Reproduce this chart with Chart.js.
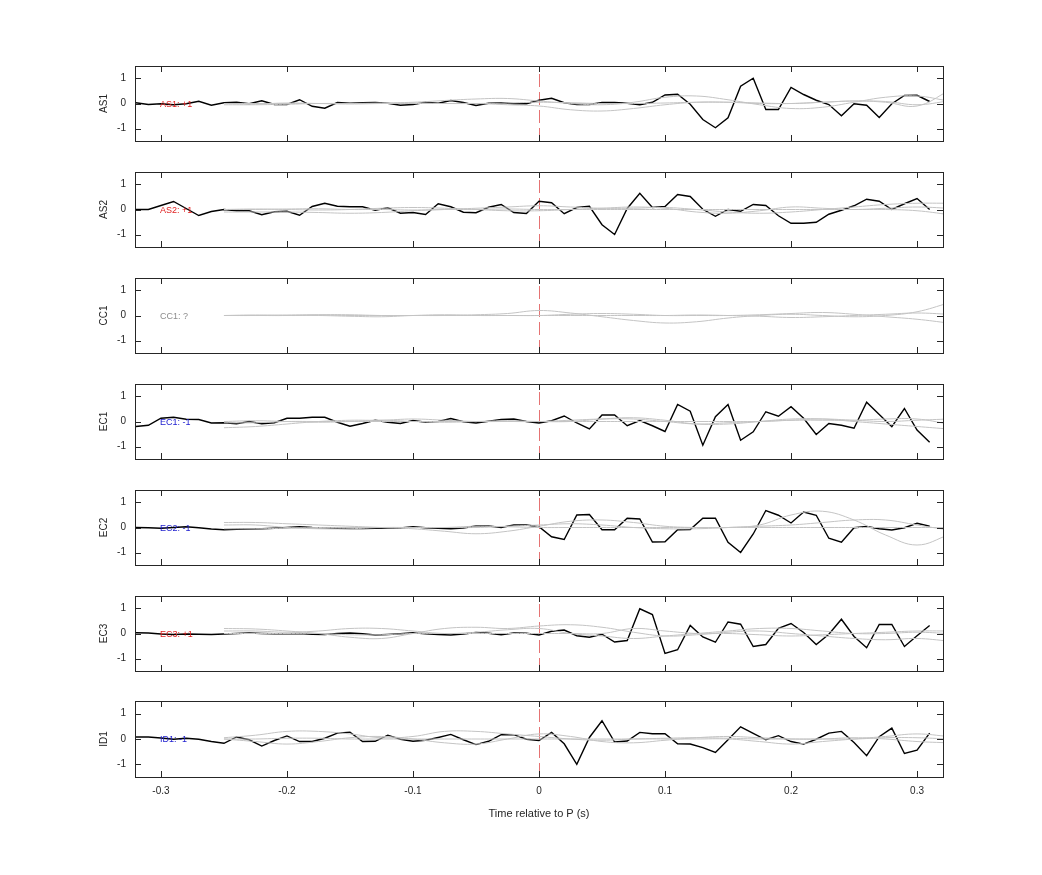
<!DOCTYPE html>
<html><head><meta charset="utf-8">
<script src="https://cdn.jsdelivr.net/npm/chart.js@4"></script>
<style>body{margin:0;background:#fff}#wrap{position:relative;width:1042px;height:875px}.p{position:absolute;left:0}</style>
</head><body><div id="wrap"></div>
<script>
const blackTimes=[-0.32,-0.31,-0.30,-0.29,-0.28,-0.27,-0.26,-0.25,-0.24,-0.23,-0.22,-0.21,-0.20,-0.19,-0.18,-0.17,-0.16,-0.15,-0.14,-0.13,-0.12,-0.11,-0.10,-0.09,-0.08,-0.07,-0.06,-0.05,-0.04,-0.03,-0.02,-0.01,0.00,0.01,0.02,0.03,0.04,0.05,0.06,0.07,0.08,0.09,0.10,0.11,0.12,0.13,0.14,0.15,0.16,0.17,0.18,0.19,0.20,0.21,0.22,0.23,0.24,0.25,0.26,0.27,0.28,0.29,0.30,0.31];
const greyTimes=[-0.25,-0.225,-0.2,-0.175,-0.15,-0.125,-0.1,-0.075,-0.05,-0.025,0,0.025,0.05,0.075,0.1,0.125,0.15,0.175,0.2,0.225,0.25,0.275,0.3,0.325];
const xTicks=[-0.3,-0.2,-0.1,0,0.1,0.2,0.3];
const xTickLabels=['-0.3','-0.2','-0.1','0','0.1','0.2','0.3'];
const yTicks=[-1,0,1];
const channels=['AS1','AS2','CC1','EC1','EC2','EC3','ID1'];
const polarity=['AS1: +1','AS2: +1','CC1: ?','EC1: -1','EC2: -1','EC3: +1','ID1: -1'];
const polColors=['#e02020','#e02020','#8c8c8c','#2020d0','#2020d0','#e02020','#2020d0'];

const blackAS1=[0.03,-0.04,-0.01,-0.05,-0.01,0.09,-0.07,0.03,0.05,-0.01,0.11,-0.04,-0.04,0.15,-0.11,-0.19,0.04,0.01,0.03,0.04,0.01,-0.07,-0.04,0.05,0.01,0.12,0.04,-0.08,0.01,0.03,-0.01,-0.01,0.13,0.21,0.03,-0.04,-0.04,0.04,0.04,0.01,-0.05,0.05,0.34,0.37,-0.03,-0.64,-0.97,-0.57,0.69,1.01,-0.24,-0.24,0.64,0.36,0.13,-0.04,-0.49,-0.01,-0.07,-0.56,-0.01,0.32,0.33,0.08];
const blackAS2=[0,0,0.16,0.32,0.04,-0.24,-0.08,0,-0.05,-0.05,-0.21,-0.09,-0.07,-0.23,0.12,0.25,0.13,0.11,0.11,-0.03,0.07,-0.15,-0.12,-0.2,0.23,0.11,-0.11,-0.13,0.09,0.2,-0.12,-0.16,0.33,0.27,-0.17,0.08,0.13,-0.61,-1.0,0.04,0.65,0.08,0.12,0.6,0.52,0.01,-0.27,0,-0.07,0.2,0.16,-0.25,-0.55,-0.55,-0.51,-0.19,-0.03,0.15,0.41,0.33,0,0.23,0.44,0];
const blackCC1=[];
const blackEC1=[-0.2,-0.15,0.13,0.17,0.09,0.08,-0.06,-0.05,-0.09,0,-0.09,-0.05,0.13,0.13,0.17,0.17,-0.03,-0.19,-0.08,0.05,-0.03,-0.08,0.04,-0.03,0,0.12,-0.01,-0.06,0.01,0.08,0.1,0,-0.06,0.03,0.22,-0.06,-0.3,0.26,0.26,-0.17,0.04,-0.17,-0.4,0.68,0.41,-0.95,0.19,0.68,-0.75,-0.41,0.39,0.21,0.59,0.13,-0.52,-0.08,-0.15,-0.27,0.77,0.28,-0.21,0.52,-0.34,-0.83];
const blackEC2=[0,-0.01,-0.03,0,0.03,-0.01,-0.06,-0.09,-0.07,-0.06,-0.05,-0.03,0,0.03,0,-0.01,-0.03,-0.04,-0.04,-0.03,-0.02,-0.02,0.03,-0.01,-0.03,-0.05,-0.02,0.06,0.06,0,0.1,0.1,0.03,-0.37,-0.48,0.5,0.52,-0.09,-0.09,0.37,0.34,-0.58,-0.57,-0.09,-0.08,0.37,0.37,-0.59,-1.0,-0.26,0.68,0.49,0.18,0.62,0.49,-0.43,-0.59,-0.01,0.04,-0.05,-0.1,-0.01,0.17,0.05];
const blackEC3=[0.03,0.02,-0.02,-0.04,-0.02,-0.03,-0.04,-0.02,0,0.02,0,-0.01,-0.01,0,-0.03,-0.04,0,0.02,-0.01,-0.06,-0.04,-0.01,0.03,-0.01,-0.04,-0.06,-0.02,0.04,0.01,-0.05,0.02,0.01,-0.06,0.09,0.14,-0.09,-0.15,-0.03,-0.34,-0.28,0.99,0.76,-0.8,-0.65,0.32,-0.14,-0.35,0.46,0.37,-0.52,-0.44,0.21,0.4,0.04,-0.44,-0.03,0.57,-0.12,-0.57,0.36,0.36,-0.52,-0.09,0.32];
const blackID1=[0.08,0.08,0.04,-0.01,0.03,-0.01,-0.1,-0.17,0.08,-0.03,-0.28,-0.06,0.12,-0.1,-0.1,0.03,0.23,0.27,-0.1,-0.09,0.15,-0.01,-0.09,-0.05,0.06,0.18,-0.03,-0.22,-0.09,0.17,0.17,-0.01,-0.06,0.26,-0.19,-1.0,0.06,0.72,-0.12,-0.08,0.26,0.21,0.21,-0.19,-0.2,-0.34,-0.53,-0.03,0.48,0.22,-0.03,0.13,-0.1,-0.2,-0.01,0.23,0.3,-0.14,-0.66,0.09,0.43,-0.57,-0.44,0.23];

const greysAS1=[
[0,0,0,0,0,0.02,0.05,0.12,0.18,0.2,0.1,0,-0.05,0.05,0.25,0.3,0.15,-0.05,-0.2,-0.15,0.05,0.25,0.3,0.1],
[-0.05,-0.05,-0.03,0,0,0,0,0,0,-0.05,-0.1,-0.25,-0.3,-0.2,-0.05,0.05,0.05,0,0,0.05,0.1,0.05,-0.1,0.5],
[0,-0.02,0.02,0,-0.02,0,0.02,0,0,0.02,0.05,0.03,0,0,0.02,0.05,0.05,0.02,0,0.05,0.1,0.08,-0.05,0.1]];
const greysAS2=[
[-0.1,-0.1,-0.1,-0.12,-0.15,-0.12,-0.05,0,0.05,0.1,0.15,0.1,0.05,0.05,0.08,0,-0.1,-0.15,-0.1,0,0.1,0.2,0.25,0.25],
[0,0.02,0,-0.02,0,0.05,0.08,0.05,0,-0.05,-0.05,0,0.05,0.1,0.05,-0.1,-0.15,-0.05,0.1,0.05,0,0.05,0.1,0.05],
[0,0,0.02,0.03,0,0,-0.02,0,0,0.02,0,0,0,0,0,0,0,0,0,0,0,0,-0.05,-0.2]];
const greysCC1=[
[0,0,0.02,0.02,0,0,0,0,0.03,0.08,0.2,0.1,-0.05,-0.2,-0.3,-0.25,-0.1,0,0.05,0,-0.05,0,0.15,0.5],
[0,0.02,0,0,-0.03,-0.05,0,0.03,0,0,0,0.05,0.08,0.05,0,0,0,0.03,0.08,0.12,0.05,-0.05,-0.15,-0.3],
[0,0,0,0.03,0.03,0,0,0,0,0,0,0,0,0,0,0.02,0,-0.03,-0.08,-0.05,0,0.05,0.1,0.05]];
const greysEC1=[
[-0.25,-0.2,-0.1,0,0.05,0.05,0.1,0.05,0,0,0,0.05,0.1,0.1,0,-0.1,-0.05,0,0.05,0.05,0.05,0.1,0.1,-0.1],
[0,0.03,0,-0.03,0,0.05,0,-0.03,0,0.03,0,0,0.1,0.15,0.05,-0.1,-0.1,0,0.1,0.1,0,-0.1,-0.2,-0.3],
[-0.05,-0.05,0,0,0,0,0,0,0,0,0,0,0,0,0,0,0,0,0.05,0.1,0.05,0,0.05,0.1]];
const greysEC2=[
[0.2,0.2,0.15,0.1,0.05,0,-0.05,-0.15,-0.25,-0.15,0.05,0.25,0.3,0.2,0.05,0,0,0.1,0.5,0.65,0.3,-0.3,-0.7,-0.3],
[0.1,0.1,0,-0.05,-0.05,0,0,0,0,0.05,0.1,0.15,0.1,0,-0.05,-0.05,0,0.05,0.1,0.2,0.3,0.3,0.1,-0.1],
[-0.05,-0.05,-0.03,0,0,0,0,0,0.05,0.03,0,0,0,0,0,0,0,0,0,0,0,0,0,0]];
const greysEC3=[
[0.2,0.18,0.1,0,-0.15,-0.2,0,0.2,0.25,0.2,0.3,0.35,0.25,0.05,-0.1,-0.05,0.05,0.1,0,-0.1,-0.2,-0.25,-0.2,-0.3],
[0.1,0.1,0.05,0.1,0.2,0.2,0.1,0,0.05,0.15,0.2,0,-0.1,-0.2,-0.1,0,0.1,0.2,0.2,0.1,0,0,0.05,0],
[0,0,0,0,-0.05,-0.05,0,0,0,0,0,0,0,0.2,0.1,0,0,-0.05,-0.1,-0.05,0,0.05,0.1,0.1]];
const greysID1=[
[0.05,0.15,0.3,0.3,0.2,0.05,0.1,0.3,0.3,0.2,0.1,0,-0.05,0,0,0,0,-0.1,-0.2,-0.1,0,0.1,0.2,0.1],
[0,-0.1,-0.2,-0.1,0.05,0.1,0,-0.15,-0.2,0,0.2,0.1,-0.1,-0.15,-0.05,0.05,0.1,0.05,0,0,0.05,0,-0.1,-0.15],
[0,0,0.03,0.03,0,0,0,0,0,0,0,0,0,0,0.03,0.05,0.03,0,0,0,0,0.05,0.05,0]];

const blacks=[blackAS1,blackAS2,blackCC1,blackEC1,blackEC2,blackEC3,blackID1];
const greys=[greysAS1,greysAS2,greysCC1,greysEC1,greysEC2,greysEC3,greysID1];

const FONT='"Liberation Sans", Arial, sans-serif';
const panelPlugin={id:'panel',
 beforeDatasetsDraw(c,a,o){const ctx=c.ctx,x=c.scales.x,ca=c.chartArea;const px=Math.round(x.getPixelForValue(0))+0.5;
  ctx.save();ctx.strokeStyle='rgba(225,90,90,0.85)';ctx.lineWidth=1;ctx.setLineDash([13,5]);
  ctx.beginPath();ctx.moveTo(px,ca.top+8);ctx.lineTo(px,ca.bottom);ctx.stroke();ctx.restore();},
 afterDraw(c,a,o){const ctx=c.ctx,x=c.scales.x,y=c.scales.y,ca=c.chartArea;
  ctx.save();ctx.strokeStyle='#262626';ctx.lineWidth=1;
  ctx.strokeRect(Math.round(ca.left)+0.5,Math.round(ca.top)+0.5,Math.round(ca.right-ca.left),Math.round(ca.bottom-ca.top));
  ctx.beginPath();
  xTicks.forEach(v=>{const p=Math.round(x.getPixelForValue(v))+0.5;ctx.moveTo(p,ca.top);ctx.lineTo(p,ca.top+6);ctx.moveTo(p,ca.bottom);ctx.lineTo(p,ca.bottom-6);});
  yTicks.forEach(v=>{const p=Math.round(y.getPixelForValue(v))+0.5;ctx.moveTo(ca.left,p);ctx.lineTo(ca.left+6,p);ctx.moveTo(ca.right,p);ctx.lineTo(ca.right-6,p);});
  ctx.stroke();
  ctx.fillStyle='#262626';ctx.font='10px '+FONT;ctx.textAlign='center';ctx.textBaseline='middle';
  ctx.translate(104,(ca.top+ca.bottom)/2);ctx.rotate(-Math.PI/2);ctx.fillText(o.name,0,0);ctx.restore();
  ctx.save();ctx.fillStyle=o.color;ctx.font='9px '+FONT;ctx.textAlign='left';ctx.textBaseline='middle';
  ctx.fillText(o.pol,160,y.getPixelForValue(0)+1);ctx.restore();}
};
const wrap=document.getElementById('wrap');
channels.forEach((name,i)=>{
 const last=i===channels.length-1;
 const top=last?686:66+106*i-15;const h=last?778+48-686:75+30;
 const cv=document.createElement('canvas');cv.className='p';cv.style.top=top+'px';cv.width=1042;cv.height=h;cv.style.width='1042px';cv.style.height=h+'px';
 wrap.appendChild(cv);
 const ds=greys[i].map(g=>({data:greyTimes.map((t,k)=>({x:t,y:g[k]})),borderColor:'#c4c4c4',borderWidth:1,pointRadius:0,tension:0.4}));
 if(blacks[i].length)ds.push({data:blackTimes.map((t,k)=>({x:t,y:blacks[i][k]})),borderColor:'#000',borderWidth:1.4,pointRadius:0,tension:0});
 new Chart(cv,{type:'line',data:{datasets:ds},plugins:[panelPlugin],options:{
  responsive:false,animation:false,devicePixelRatio:1,
  layout:{padding:{left:0,right:99,top:1,bottom:1}},
  plugins:{legend:{display:false},tooltip:{enabled:false},panel:{name,pol:polarity[i],color:polColors[i]}},
  scales:{
   x:{type:'linear',min:-0.3206,max:0.3206,display:last,grid:{display:false,drawTicks:false},border:{display:false},
      afterBuildTicks:s=>{s.ticks=xTicks.map(v=>({value:v}));},
      afterFit:s=>{if(last)s.height=48;},
      ticks:{padding:8,color:'#262626',font:{size:10,family:FONT},callback:(v)=>xTickLabels[xTicks.indexOf(v)]??''},
      title:{display:true,text:'Time relative to P (s)',color:'#262626',font:{size:11,family:FONT},padding:{top:0,bottom:4}}},
   y:{min:-1.5,max:1.5,grid:{display:false,drawTicks:false},border:{display:false},
      afterBuildTicks:s=>{s.ticks=yTicks.map(v=>({value:v}));},
      afterFit:s=>{s.width=135;},
      ticks:{padding:9,color:'#262626',font:{size:10,family:FONT}}}
  }}});
});
</script></body></html>
